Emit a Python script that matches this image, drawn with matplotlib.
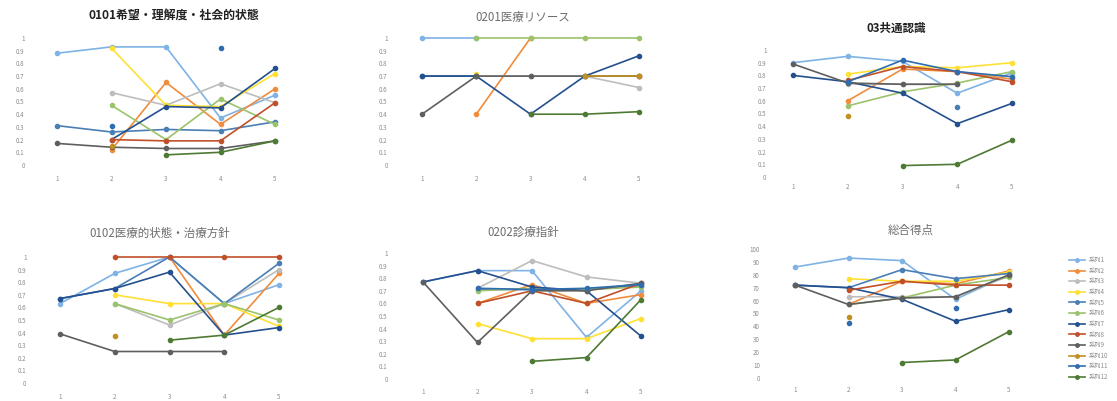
import matplotlib
matplotlib.use("Agg")
import matplotlib.pyplot as plt
import numpy as np

plt.rcParams['font.family'] = ['Noto Sans CJK JP', 'DejaVu Sans']

nan = np.nan
x_labels = ['1', '2', '3', '4', '5']
series_names = ['系列%d' % i for i in range(1, 13)]
colors = ['#7FB2E5', '#F08C3C', '#BDBDBD', '#FFE033', '#4A7FB5', '#9BC36B',
          '#24508F', '#C0502A', '#5F5F5F', '#C09020', '#2F6DB0', '#4E7A33']

# 0101 希望・理解度・社会的状態
q0101 = [
    [0.88, 0.93, 0.93, 0.37, 0.55],
    [nan, 0.12, 0.65, 0.32, 0.60],
    [nan, 0.57, 0.47, 0.64, 0.49],
    [nan, 0.92, 0.47, 0.46, 0.72],
    [0.31, 0.26, 0.28, 0.27, 0.34],
    [nan, 0.47, 0.20, 0.52, 0.32],
    [nan, 0.20, 0.46, 0.45, 0.76],
    [nan, 0.20, 0.19, 0.19, 0.49],
    [0.17, 0.14, 0.13, 0.13, 0.19],
    [nan, 0.15, nan, nan, nan],
    [nan, 0.31, nan, 0.92, nan],
    [nan, nan, 0.08, 0.10, 0.19],
]
# 0201 医療リソース
q0201 = [
    [1.0, 1.0, nan, nan, nan],
    [nan, 0.40, 1.0, nan, nan],
    [nan, 0.70, 0.70, 0.70, 0.61],
    [nan, 0.72, nan, nan, nan],
    [0.70, 0.70, nan, nan, nan],
    [nan, 1.0, 1.0, 1.0, 1.0],
    [0.70, 0.70, 0.40, 0.70, 0.86],
    [nan, nan, nan, nan, 0.70],
    [0.40, 0.70, 0.70, 0.70, 0.70],
    [nan, nan, nan, 0.70, 0.70],
    [nan, nan, nan, nan, nan],
    [nan, nan, 0.40, 0.40, 0.42],
]
# 03 共通認識
q03 = [
    [0.90, 0.95, 0.91, 0.66, 0.82],
    [nan, 0.60, 0.85, 0.83, 0.77],
    [nan, 0.73, 0.73, 0.73, nan],
    [nan, 0.81, 0.87, 0.86, 0.90],
    [nan, nan, nan, 0.55, nan],
    [nan, 0.56, 0.67, 0.74, 0.83],
    [0.80, 0.75, 0.66, 0.42, 0.58],
    [nan, 0.76, 0.87, 0.83, 0.75],
    [0.89, 0.74, 0.73, 0.73, nan],
    [nan, 0.48, nan, nan, nan],
    [nan, 0.75, 0.92, 0.83, 0.79],
    [nan, nan, 0.09, 0.10, 0.29],
]
# 0102 医療的状態・治療方針
q0102 = [
    [0.63, 0.87, 1.0, 0.63, 0.78],
    [nan, nan, 1.0, 0.38, 0.87],
    [nan, 0.63, 0.46, 0.63, 0.90],
    [nan, 0.70, 0.63, 0.63, 0.45],
    [0.67, 0.75, 1.0, 0.63, 0.95],
    [nan, 0.63, 0.50, 0.63, 0.50],
    [0.67, 0.75, 0.88, 0.38, 0.44],
    [nan, 1.0, 1.0, 1.0, 1.0],
    [0.39, 0.25, 0.25, 0.25, nan],
    [nan, 0.37, nan, nan, nan],
    [nan, nan, nan, nan, nan],
    [nan, nan, 0.34, 0.38, 0.60],
]
# 0202 診療指針
q0202 = [
    [0.77, 0.86, 0.86, 0.33, 0.70],
    [nan, 0.60, 0.75, 0.60, 0.67],
    [nan, 0.72, 0.94, 0.81, 0.76],
    [nan, 0.44, 0.32, 0.32, 0.48],
    [nan, 0.71, 0.71, 0.71, 0.74],
    [nan, 0.70, 0.72, 0.71, 0.73],
    [0.77, 0.86, 0.73, 0.70, 0.34],
    [nan, 0.60, 0.70, 0.60, 0.76],
    [0.77, 0.29, 0.70, 0.70, 0.76],
    [nan, nan, nan, nan, nan],
    [nan, 0.72, 0.71, 0.72, 0.75],
    [nan, nan, 0.14, 0.17, 0.63],
]
# 総合得点
total = [
    [86, 93, 91, 61, 80],
    [nan, 57, 75, 73, 83],
    [nan, 63, 63, 63, 79],
    [nan, 77, 75, 75, 82],
    [72, 70, 84, 77, 81],
    [nan, 57, 62, 72, 78],
    [72, 70, 61, 44, 53],
    [nan, 68, 75, 72, 72],
    [72, 57, 62, 63, 80],
    [nan, 47, nan, nan, nan],
    [nan, 43, nan, 54, nan],
    [nan, nan, 12, 14, 36],
]

W, H = 1117, 401
fig = plt.figure(figsize=(W / 100, H / 100), dpi=100)

# data, title, x of first/last category, y of top/bottom of scale, ymax, step,
# label pads (px), title centre (px), title size, bold
panels = [
    (q0101, '0101希望・理解度・社会的状態', 57, 275, 38, 165, 1.0, 0.1, 16, 10, (174, 15), 8.6, True),
    (q0201, '0201医療リソース', 422, 639, 38, 165, 1.0, 0.1, 18, 10, (523, 18), 8.3, False),
    (q03, '03共通認識', 793, 1012, 50, 177, 1.0, 0.1, 10, 6, (896, 28), 8.3, True),
    (q0102, '0102医療的状態・治療方針', 60, 279, 257, 383, 1.0, 0.1, 17, 10, (160, 233), 8.3, False),
    (q0202, '0202診療指針', 423, 641, 253, 379, 1.0, 0.1, 19, 9, (523, 232), 8.3, False),
    (total, '総合得点', 795, 1009, 249, 378, 100, 10, 19, 8, (911, 230), 8.3, False),
]

xs = np.arange(len(x_labels))
for data, title, x0, x1, yt, yb, ymax, step, ypad, xpad, tpos, tsize, bold in panels:
    dx = (x1 - x0) / 4
    left = x0 - 0.3 * dx
    width = 4.6 * dx
    ax = fig.add_axes([left / W, 1 - yb / H, width / W, (yb - yt) / H])
    for vals, c in zip(data, colors):
        ax.plot(xs, vals, color=c, lw=1.2, marker='o', ms=3, clip_on=False)
    ax.set_xlim(-0.3, 4.3)
    ax.set_ylim(0, ymax)
    ticks = np.arange(0, ymax + step / 2, step)
    ax.set_yticks(ticks)
    if ymax == 1.0:
        ax.set_yticklabels(['0'] + ['%.1f' % t for t in ticks[1:-1]] + ['1'])
    ax.set_xticks(xs)
    ax.set_xticklabels(x_labels)
    ax.tick_params(axis='y', length=0, pad=ypad * 0.72, labelsize=4.5, labelcolor='#8C8C8C')
    ax.tick_params(axis='x', length=0, pad=xpad * 0.72, labelsize=4.5, labelcolor='#8C8C8C')
    for s in ax.spines.values():
        s.set_visible(False)
    ax.patch.set_alpha(0)
    fig.text(tpos[0] / W, 1 - tpos[1] / H, title, ha='center', va='center',
             fontsize=tsize, color='#222222' if bold else '#6E6E6E',
             fontweight='bold' if bold else 'normal')

handles = [plt.Line2D([], [], color=c, lw=1.2, marker='o', ms=2.5) for c in colors]
fig.legend(handles, series_names, loc='upper left', bbox_to_anchor=(1066 / W, 1 - 253 / H),
           frameon=False, fontsize=4.5, handlelength=2.6, labelspacing=0.42,
           borderpad=0, handletextpad=0.5, labelcolor='#8C8C8C')

fig.savefig('out.png', dpi=100)
